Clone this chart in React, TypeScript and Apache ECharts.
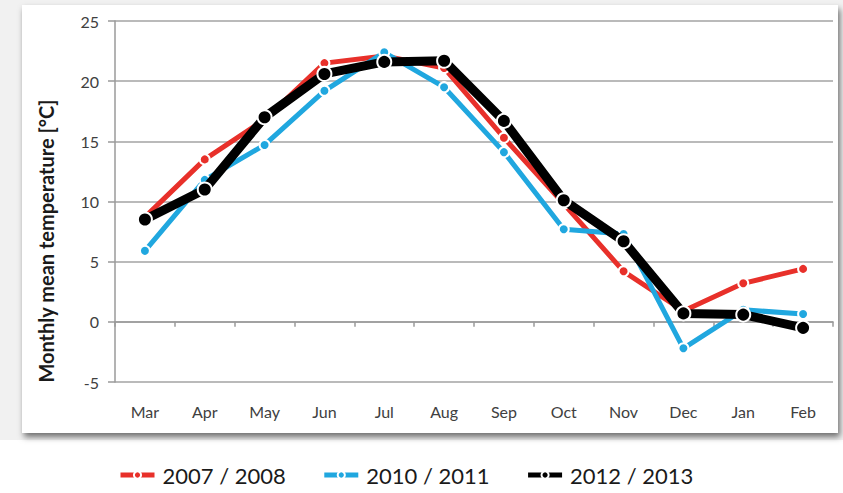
import React, { useEffect, useRef } from "react";
import * as echarts from "echarts";

const months = ["Mar", "Apr", "May", "Jun", "Jul", "Aug", "Sep", "Oct", "Nov", "Dec", "Jan", "Feb"];
const s0708 = [8.7, 13.5, 16.8, 21.5, 22.1, 21.1, 15.3, 9.8, 4.2, 0.9, 3.2, 4.4];
const s1011 = [5.9, 11.8, 14.7, 19.2, 22.4, 19.5, 14.1, 7.7, 7.3, -2.2, 1.0, 0.65];
const s1213 = [8.5, 11.0, 17.0, 20.6, 21.6, 21.7, 16.7, 10.1, 6.7, 0.7, 0.6, -0.5];
const seriesNames = ["2007 / 2008", "2010 / 2011", "2012 / 2013"];
const yName = "Monthly mean temperature [°C]";

export default function App() {
  const ref = useRef<HTMLDivElement>(null);
  useEffect(() => {
    if (!ref.current) return;
    const chart = echarts.init(ref.current, undefined, { renderer: "svg" });
    const font = "Lato, 'Open Sans', sans-serif";
    const mk = (name: string, data: number[], color: string, lw: number, size: number, z: number) => ({
      name,
      type: "line",
      data,
      z,
      symbol: "circle",
      symbolSize: size,
      showAllSymbol: true,
      lineStyle: { color, width: lw },
      itemStyle: { color, borderColor: "#ffffff", borderWidth: 2 },
    });
    chart.setOption({
      animation: false,
      backgroundColor: "#ffffff",
      textStyle: { fontFamily: font },
      graphic: [
        { type: "rect", z: -20, shape: { x: 0, y: 0, width: 843, height: 440 }, style: { fill: "#f1f1f1" } },
        {
          type: "rect",
          z: -10,
          shape: { x: 22, y: 5, width: 816, height: 428 },
          style: { fill: "#ffffff", shadowBlur: 6, shadowOffsetX: 2, shadowOffsetY: 4, shadowColor: "rgba(0,0,0,0.55)" },
        },
        {
          type: "text",
          x: 46,
          y: 241,
          rotation: Math.PI / 2,
          style: {
            text: yName,
            font: "bold 20px " + font,
            fill: "#1a1a1a",
            align: "center",
            verticalAlign: "middle",
          },
        },
      ],
      grid: { left: 115, right: 10, top: 21, bottom: 111 },
      legend: {
        bottom: 2,
        left: 113,
        itemWidth: 34,
        itemHeight: 9,
        itemGap: 36,
        lineStyle: { width: 5 },
        textStyle: { fontSize: 22, color: "#1a1a1a", fontFamily: font, padding: [0, 0, 0, 3] },
        data: seriesNames,
      },
      xAxis: {
        type: "category",
        data: months,
        boundaryGap: true,
        axisLine: { show: true, onZero: true, lineStyle: { color: "#9a9a9a", width: 1.5 } },
        axisTick: { show: true, length: 5, lineStyle: { color: "#9a9a9a", width: 1.5 } },
        axisLabel: { margin: 21, fontSize: 16, color: "#404040", fontFamily: font },
        splitLine: { show: false },
      },
      yAxis: {
        type: "value",
        min: -5,
        max: 25,
        interval: 5,
        axisLine: { show: true, lineStyle: { color: "#9a9a9a", width: 1.5 } },
        axisTick: { show: true, length: 7, lineStyle: { color: "#9a9a9a", width: 1.5 } },
        axisLabel: { margin: 16, fontSize: 16, color: "#404040", fontFamily: font },
        splitLine: { show: true, lineStyle: { color: "#a3a3a3", width: 1.5 } },
      },
      series: [
        mk(seriesNames[0], s0708, "#e8302a", 5, 10, 3),
        mk(seriesNames[1], s1011, "#20a7df", 5, 10, 4),
        mk(seriesNames[2], s1213, "#000000", 9, 14, 5),
      ],
    });
    return () => chart.dispose();
  }, []);
  return <div ref={ref} style={{ position: "fixed", left: 0, top: 0, width: 843, height: 493 }} />;
}
